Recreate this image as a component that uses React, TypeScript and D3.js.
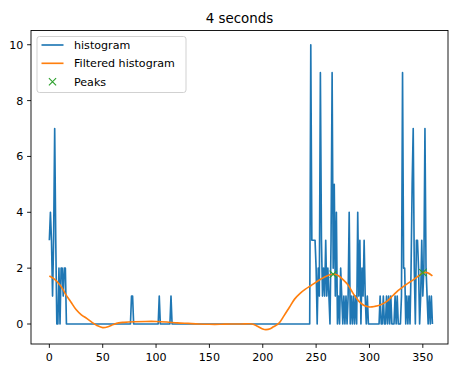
import React from "react";
import * as d3 from "d3";

const histogram: number[] = [
  3, 4, 3, 1, 3, 7, 3, 0, 0, 2, 0, 2, 2, 1, 2, 2, 0, 0, 0, 0,
  0, 0, 0, 0, 0, 0, 0, 0, 0, 0, 0, 0, 0, 0, 0, 0, 0, 0, 0, 0,
  0, 0, 0, 0, 0, 0, 0, 0, 0, 0, 0, 0, 0, 0, 0, 0, 0, 0, 0, 0,
  0, 0, 0, 0, 0, 0, 0, 0, 0, 0, 0, 0, 0, 0, 0, 0, 0, 1, 1, 0,
  0, 0, 0, 0, 0, 0, 0, 0, 0, 0, 0, 0, 0, 0, 0, 0, 0, 0, 0, 0,
  0, 0, 0, 1, 0, 0, 0, 0, 0, 0, 0, 0, 0, 0, 1, 0, 0, 0, 0, 0,
  0, 0, 0, 0, 0, 0, 0, 0, 0, 0, 0, 0, 0, 0, 0, 0, 0, 0, 0, 0,
  0, 0, 0, 0, 0, 0, 0, 0, 0, 0, 0, 0, 0, 0, 0, 0, 0, 0, 0, 0,
  0, 0, 0, 0, 0, 0, 0, 0, 0, 0, 0, 0, 0, 0, 0, 0, 0, 0, 0, 0,
  0, 0, 0, 0, 0, 0, 0, 0, 0, 0, 0, 0, 0, 0, 0, 0, 0, 0, 0, 0,
  0, 0, 0, 0, 0, 0, 0, 0, 0, 0, 0, 0, 0, 0, 0, 0, 0, 0, 0, 0,
  0, 0, 0, 0, 0, 0, 0, 0, 0, 0, 0, 0, 0, 0, 0, 0, 0, 0, 0, 0,
  0, 0, 0, 0, 0, 10, 3, 3, 3, 3, 2, 0, 2, 1, 9, 3, 1, 2, 1, 3,
  1, 2, 1, 0, 3, 9, 2, 5, 1, 4, 0, 1, 0, 2, 1, 0, 1, 0, 1, 0,
  1, 4, 0, 1, 0, 1, 0, 1, 0, 4, 1, 3, 0, 2, 1, 3, 1, 0, 1, 0,
  0, 0, 0, 0, 0, 0, 0, 0, 0, 0, 1, 0, 0, 1, 0, 0, 1, 0, 1, 0,
  1, 0, 0, 0, 1, 0, 1, 0, 0, 0, 1, 9, 2, 2, 0, 1, 0, 1, 0, 2,
  5, 7, 2, 0, 3, 3, 2, 0, 1, 3, 1, 2, 7, 2, 1, 0, 1, 0, 1, 0,
];

const filteredX: number[] = [
  0, 5, 10, 13, 15, 20, 25, 30, 35, 40, 45, 50, 55, 60, 65, 70, 80, 90, 100, 110,
  120, 130, 140, 150, 160, 170, 180, 190, 195, 200, 203, 207, 210, 215, 220, 225, 230, 235, 240, 245,
  250, 255, 260, 265, 268, 272, 276, 280, 285, 290, 295, 300, 305, 310, 316, 322, 327, 332, 337, 341,
  346, 350, 354, 359,
];
const filteredY: number[] = [
  1.72, 1.6, 1.4, 1.22, 1.08, 0.8, 0.52, 0.33, 0.2, 0.06, -0.06, -0.13, -0.1, -0.02, 0.04, 0.06, 0.08, 0.09, 0.09, 0.07,
  0.04, 0.02, 0.0, -0.01, -0.01, 0.0, 0.0, 0.0, -0.08, -0.18, -0.2, -0.17, -0.1, 0.02, 0.3, 0.6, 0.9, 1.1, 1.25, 1.37,
  1.5, 1.62, 1.72, 1.78, 1.78, 1.7, 1.56, 1.4, 1.08, 0.82, 0.66, 0.61, 0.63, 0.68, 0.8, 1.02, 1.2, 1.35, 1.48, 1.58,
  1.72, 1.83, 1.84, 1.72,
];

const peakX: number[] = [266, 350];
const peakY: number[] = [1.78, 1.84];

const xTicks: number[] = [0, 50, 100, 150, 200, 250, 300, 350];
const yTicks: number[] = [0, 2, 4, 6, 8, 10];
const legendLabels: string[] = ["histogram", "Filtered histogram", "Peaks"];
const title = "4 seconds";

const W = 449;
const H = 367;
const L = 31, R = 448, T = 30.5, B = 344;
const FONT = "DejaVu Sans, sans-serif";
const BLUE = "#1f77b4", ORANGE = "#ff7f0e", GREEN = "#2ca02c";

export default function App() {
  const x = d3.scaleLinear().domain([-17.2, 373.6]).range([L, R]);
  const y = d3.scaleLinear().domain([-0.716, 10.51]).range([B, T]);

  const histLine = d3
    .line<number>()
    .x((_, i) => x(i))
    .y((d) => y(d))(histogram) as string;

  const filtPts: [number, number][] = filteredX.map((v, i) => [v, filteredY[i]]);
  const filtLine = d3
    .line<[number, number]>()
    .x((d) => x(d[0]))
    .y((d) => y(d[1]))
    .curve(d3.curveCatmullRom.alpha(0.5))(filtPts) as string;

  const ms = 3.6;
  const cross = (cx: number, cy: number, key: string) => (
    <path
      key={key}
      d={`M${cx - ms},${cy - ms}L${cx + ms},${cy + ms}M${cx - ms},${cy + ms}L${cx + ms},${cy - ms}`}
      stroke={GREEN}
      strokeWidth={1.1}
      fill="none"
    />
  );

  const legX = 37, legY = 36.5, legW = 149, legH = 56;
  const rowY = [45, 63.3, 81.7];

  return (
    <svg
      width={W}
      height={H}
      style={{ position: "absolute", left: 0, top: 0, background: "#fff" }}
      fontFamily={FONT}
    >
      <rect x={0} y={0} width={W} height={H} fill="#fff" />
      <defs>
        <clipPath id="plotclip">
          <rect x={L} y={T} width={R - L} height={B - T} />
        </clipPath>
      </defs>
      <g clipPath="url(#plotclip)">
        <path d={histLine} fill="none" stroke={BLUE} strokeWidth={1.65} strokeLinejoin="round" />
        <path d={filtLine} fill="none" stroke={ORANGE} strokeWidth={1.65} strokeLinejoin="round" />
        {peakX.map((px, i) => cross(x(px), y(peakY[i]), "p" + i))}
      </g>
      {/* spines */}
      <rect x={L} y={T} width={R - L} height={B - T} fill="none" stroke="#000" strokeWidth={0.9} />
      {/* x ticks */}
      {xTicks.map((t) => (
        <g key={"xt" + t}>
          <line x1={x(t)} x2={x(t)} y1={B} y2={B + 3.9} stroke="#000" strokeWidth={0.9} />
          <text x={x(t)} y={B + 16.5} textAnchor="middle" fontSize={11.1} fill="#000">
            {t}
          </text>
        </g>
      ))}
      {/* y ticks */}
      {yTicks.map((t) => (
        <g key={"yt" + t}>
          <line x1={L - 3.9} x2={L} y1={y(t)} y2={y(t)} stroke="#000" strokeWidth={0.9} />
          <text x={L - 7.6} y={y(t) + 4} textAnchor="end" fontSize={11.1} fill="#000">
            {t}
          </text>
        </g>
      ))}
      {/* title */}
      <text x={(L + R) / 2} y={22.5} textAnchor="middle" fontSize={13.4} fill="#000">
        {title}
      </text>
      {/* legend */}
      <rect
        x={legX}
        y={legY}
        width={legW}
        height={legH}
        rx={2.5}
        fill="#fff"
        fillOpacity={0.8}
        stroke="#cccccc"
        strokeWidth={0.9}
      />
      <line x1={41.5} x2={63.5} y1={rowY[0]} y2={rowY[0]} stroke={BLUE} strokeWidth={1.65} />
      <line x1={41.5} x2={63.5} y1={rowY[1]} y2={rowY[1]} stroke={ORANGE} strokeWidth={1.65} />
      {cross(52.5, rowY[2], "legx")}
      {legendLabels.map((s, i) => (
        <text key={s} x={74} y={rowY[i] + 4} fontSize={11.1} fill="#000">
          {s}
        </text>
      ))}
    </svg>
  );
}
